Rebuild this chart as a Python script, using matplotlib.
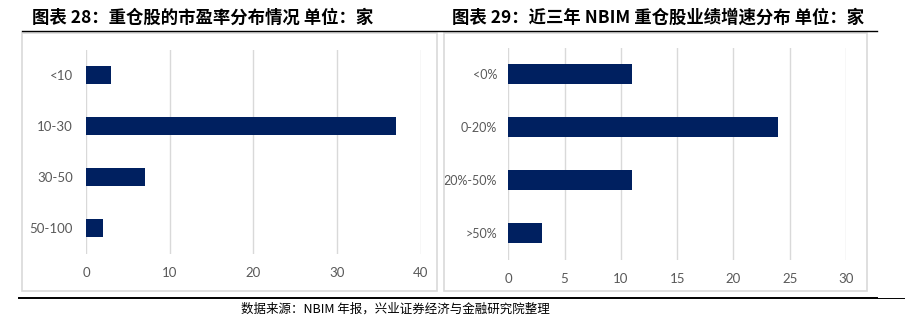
import numpy as np
import matplotlib.pyplot as plt
from matplotlib.patches import Rectangle
from matplotlib.lines import Line2D

# 市盈率分布（家）
pe_labels = ['<10', '10-30', '30-50', '50-100']
pe_counts = [3, 37, 7, 2]
pe_ticks = [0, 10, 20, 30, 40]

# 近三年业绩增速分布（家）
growth_labels = ['<0%', '0-20%', '20%-50%', '>50%']
growth_counts = [11, 24, 11, 3]
growth_ticks = [0, 5, 10, 15, 20, 25, 30]

W, H = 912, 325
bar_color = '#002060'
grid_color = '#d9d9d9'
label_color = '#595959'
cjk = ['Noto Sans CJK SC', 'DejaVu Sans']

fig = plt.figure(figsize=(W / 100, H / 100), dpi=100)


def px_axes(left, top, right, bottom):
    # 以像素坐标定位子图
    return fig.add_axes([left / W, 1 - bottom / H, (right - left) / W, (bottom - top) / H])


def draw_bars(ax, labels, counts, ticks, height, ysize, ypad):
    y = np.arange(len(labels))
    ax.barh(y, counts, height=height, color=bar_color, zorder=3)
    ax.set_ylim(len(labels) - 0.5, -0.5)
    ax.set_yticks(y)
    ax.set_yticklabels(labels)
    ax.set_xlim(ticks[0], ticks[-1])
    ax.set_xticks(ticks)
    ax.grid(axis='x', color=grid_color, linewidth=1, zorder=0)
    for s in ax.spines.values():
        s.set_visible(False)
    ax.tick_params(length=0, colors=label_color)
    ax.tick_params(axis='x', pad=10, labelsize=9.5)
    ax.tick_params(axis='y', pad=ypad, labelsize=ysize)
    for t in ax.get_xticklabels() + ax.get_yticklabels():
        t.set_fontfamily('Lato')


# 外框
for x0, x1 in [(22, 437), (444, 867)]:
    fig.patches.append(Rectangle((x0 / W, 1 - 291 / H), (x1 - x0) / W, (291 - 33) / H,
                                 transform=fig.transFigure, fill=False,
                                 edgecolor=grid_color, linewidth=1.2))

ax1 = px_axes(86, 49.5, 421, 253.5)
draw_bars(ax1, pe_labels, pe_counts, pe_ticks, 0.34, 9.5, 9.5)

ax2 = px_axes(508.3, 47.5, 846, 259.5)
draw_bars(ax2, growth_labels, growth_counts, growth_ticks, 0.36, 9, 8)

# 标题
fig.text(32 / W, 1 - 18 / H, '图表 28：重仓股的市盈率分布情况 单位：家', family=cjk,
         fontsize=12.5, fontweight='bold', va='center', ha='left')
fig.text(452 / W, 1 - 18 / H, '图表 29：近三年 NBIM 重仓股业绩增速分布 单位：家', family=cjk,
         fontsize=12.5, fontweight='bold', va='center', ha='left')

# 分隔线
fig.lines.append(Line2D([22 / W, 877 / W], [1 - 31 / H, 1 - 31 / H], color='black',
                        linewidth=1.0, transform=fig.transFigure))
fig.lines.append(Line2D([19 / W, 877 / W], [1 - 298 / H, 1 - 298 / H], color='black',
                        linewidth=1.4, transform=fig.transFigure))
fig.lines.append(Line2D([877 / W, 904 / W], [1 - 298 / H, 1 - 298 / H], color='black',
                        linewidth=0.7, transform=fig.transFigure))

fig.text(241 / W, 1 - 309 / H, '数据来源：NBIM 年报，兴业证券经济与金融研究院整理', family=cjk,
         fontsize=9, fontweight='medium', va='center', ha='left')

fig.savefig('out.png', dpi=100)
